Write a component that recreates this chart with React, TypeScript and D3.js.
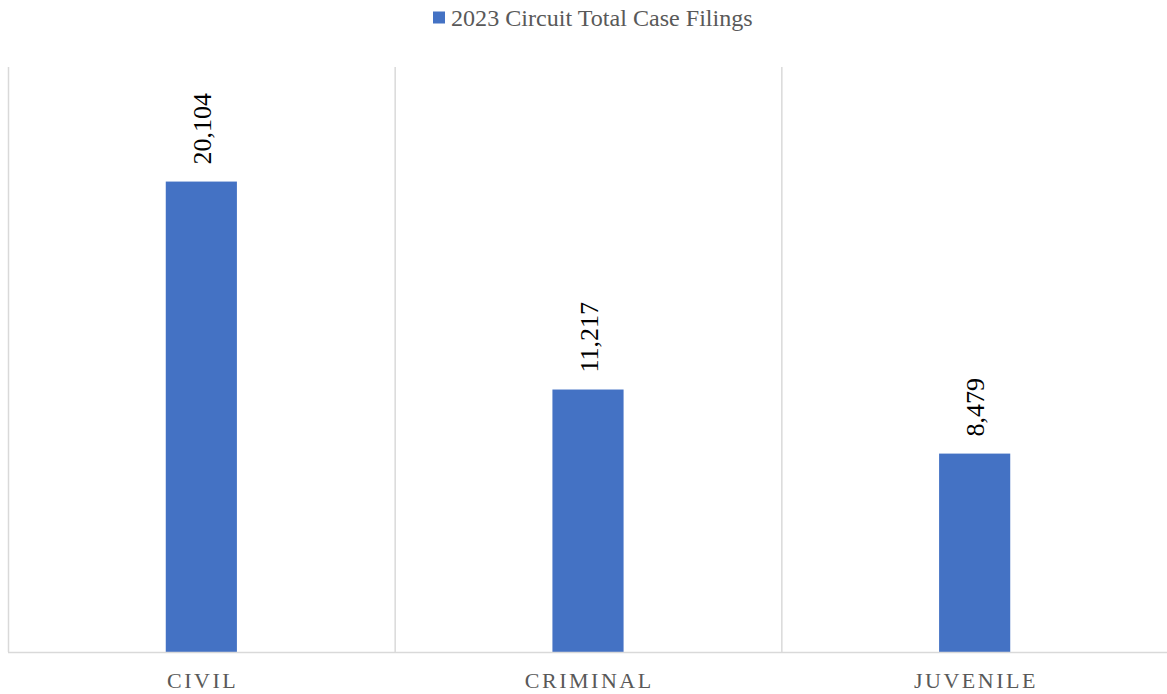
import React from "react";
import * as d3 from "d3";

const categories = ["CIVIL", "CRIMINAL", "JUVENILE"];
const values = [20104, 11217, 8479];
const seriesName = "2023 Circuit Total Case Filings";
const yMax = 25000;

const W = 1167;
const H = 694;
const margin = { left: 8, right: 0, top: 67, bottom: 42 };

export default function App() {
  const x = d3
    .scaleBand<string>()
    .domain(categories)
    .range([margin.left, W - margin.right + 1])
    .paddingInner(0)
    .paddingOuter(0);
  const y = d3
    .scaleLinear()
    .domain([0, yMax])
    .range([H - margin.bottom, margin.top]);
  const barW = x.bandwidth() * 0.184;
  const fmt = d3.format(",");
  const serif = "'Liberation Serif', 'Times New Roman', serif";
  const bounds = [...categories.map((c) => x(c)!), x(categories[categories.length - 1])! + x.bandwidth()];
  const ls = 2.5;

  return (
    <svg
      width={W}
      height={H}
      style={{ position: "absolute", left: 0, top: 0, background: "#fff" }}
    >
      {/* legend */}
      <rect x={433} y={11.5} width={12} height={12} fill="#4472C4" />
      <text x={451} y={25.5} fontFamily={serif} fontSize={24.1} fill="#595959">
        {seriesName}
      </text>
      {/* vertical gridlines */}
      {bounds.map((b, i) => (
        <line
          key={i}
          x1={b + 0.5}
          x2={b + 0.5}
          y1={margin.top}
          y2={y(0)}
          stroke="#d9d9d9"
          strokeWidth={1.5}
        />
      ))}
      {/* bars */}
      {categories.map((c, i) => {
        const cx = x(c)! + x.bandwidth() / 2;
        return (
          <g key={c}>
            <rect
              x={cx - barW / 2}
              y={y(values[i])}
              width={barW}
              height={y(0) - y(values[i])}
              fill="#4472C4"
            />
            <text
              transform={`translate(${cx},${y(values[i]) - 17}) rotate(-90)`}
              y={9.5}
              fontFamily={serif}
              fontSize={26}
              fill="#000"
              textAnchor="start"
            >
              {fmt(values[i])}
            </text>
            <text
              x={cx + ls / 2}
              y={688}
              fontFamily={serif}
              fontSize={22}
              letterSpacing={ls}
              fill="#595959"
              textAnchor="middle"
            >
              {c}
            </text>
          </g>
        );
      })}
      {/* x axis line */}
      <line
        x1={margin.left}
        x2={W}
        y1={y(0) + 0.5}
        y2={y(0) + 0.5}
        stroke="#d9d9d9"
        strokeWidth={1.5}
      />
    </svg>
  );
}
